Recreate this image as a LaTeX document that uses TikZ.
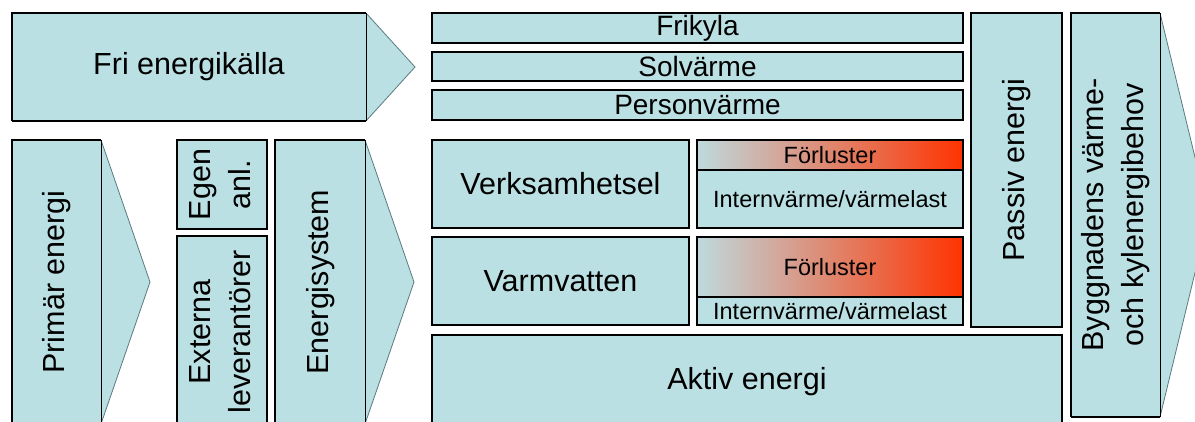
\documentclass[tikz,border=0pt]{standalone}
\usepackage{fontspec}
\setmainfont{Liberation Sans}
\usetikzlibrary{calc,shadows}
\definecolor{boxfill}{HTML}{BBE0E3}
\definecolor{hotred}{HTML}{FF3300}
\definecolor{gradleft}{HTML}{BFDADE}
\definecolor{edgegrey}{HTML}{5A7A80}
\newcommand{\vtext}[1]{\rotatebox{90}{\begin{tabular}{@{}c@{}}#1\end{tabular}}}
\begin{document}
\begin{tikzpicture}[x=1pt,y=-1pt,
  box/.style={draw=black, line width=1.2pt, fill=boxfill, inner sep=0pt, outer sep=0pt,
    drop shadow={shadow xshift=1.3pt, shadow yshift=-1.3pt, opacity=1, fill=black}},
  plainbox/.style={fill=boxfill, inner sep=0pt, outer sep=0pt},
  big/.style={font=\fontsize{30.5}{40}\selectfont},
  mid/.style={font=\fontsize{28}{34}\selectfont},
  small/.style={font=\fontsize{23.5}{28}\selectfont},
  tipfill/.style={fill=boxfill, draw=edgegrey, line width=0.8pt},
  seam/.style={draw=black, line width=0.9pt, dash pattern=on 4pt off 3pt},
  outline/.style={draw=black, line width=1.2pt},
  bottomline/.style={draw=black, line width=2pt}
]
\useasboundingbox (0,0) rectangle (1195,421);
\clip (0,0) rectangle (1195,421);

% ---- arrow shapes (rectangle + triangle) ----
\node[plainbox, big, minimum width=354pt, minimum height=108pt] (fri) at (189,67) {Fri energikälla};
\node[plainbox, big, minimum width=89pt, minimum height=284pt] (prim) at (56.5,282) {\vtext{Primär energi}};
\node[plainbox, big, minimum width=90pt, minimum height=284pt] (esys) at (320,282) {\vtext{Energisystem}};
\node[plainbox, big, minimum width=89pt, minimum height=404pt] (bygg) at (1115.5,215) {\vtext{Byggnadens värme-\\och kylenergibehov}};

\foreach \n in {fri,prim,esys,bygg}{
  \filldraw[tipfill] (\n.north east) -- ($(\n.east)+(49,0)$) -- (\n.south east);
  \draw[outline] (\n.north east) -- (\n.north west) -- (\n.south west);
  \draw[bottomline] (\n.south west) -- (\n.south east);
  \draw[black, line width=0.5pt] (\n.north east) -- (\n.south east);
  \draw[seam] (\n.north east) -- (\n.south east);
}

% ---- left column boxes ----
\node[box, big, minimum width=90pt, minimum height=89pt] (egen) at (222,184.5) {\vtext{Egen\\anl.}};
\node[box, big, minimum width=90pt, minimum height=192pt] (ext) at (222,332) {\vtext{Externa\\leverantörer}};

% ---- free energy bars ----
\node[box, mid, minimum width=531pt, minimum height=30pt] (frik) at (697.5,28) {Frikyla};
\node[box, mid, minimum width=531pt, minimum height=29pt] (solv) at (697.5,66.5) {Solvärme};
\node[box, mid, minimum width=531pt, minimum height=30pt] (pers) at (697.5,105) {Personvärme};

% ---- building use ----
\node[box, big, minimum width=257pt, minimum height=88pt] (verk) at (560.5,184) {Verksamhetsel};
\node[box, big, minimum width=257pt, minimum height=88pt] (varm) at (560.5,281) {Varmvatten};

\node[box, small, minimum width=266pt, minimum height=58pt] (int1) at (830,199) {Internvärme/värmelast};
\node[box, small, minimum width=266pt, minimum height=30pt, left color=gradleft, right color=hotred] (forl1) at (830,155) {Förluster};
\node[box, small, minimum width=266pt, minimum height=28pt] (int2) at (830,311) {Internvärme/värmelast};
\node[box, small, minimum width=266pt, minimum height=60pt, left color=gradleft, right color=hotred] (forl2) at (830,267) {Förluster};

\node[box, big, minimum width=630pt, minimum height=93pt] (aktiv) at (747,381.5) {Aktiv energi};
\node[box, big, minimum width=91pt, minimum height=314pt] (passiv) at (1016.5,170) {\vtext{Passiv energi}};
\end{tikzpicture}
\end{document}
